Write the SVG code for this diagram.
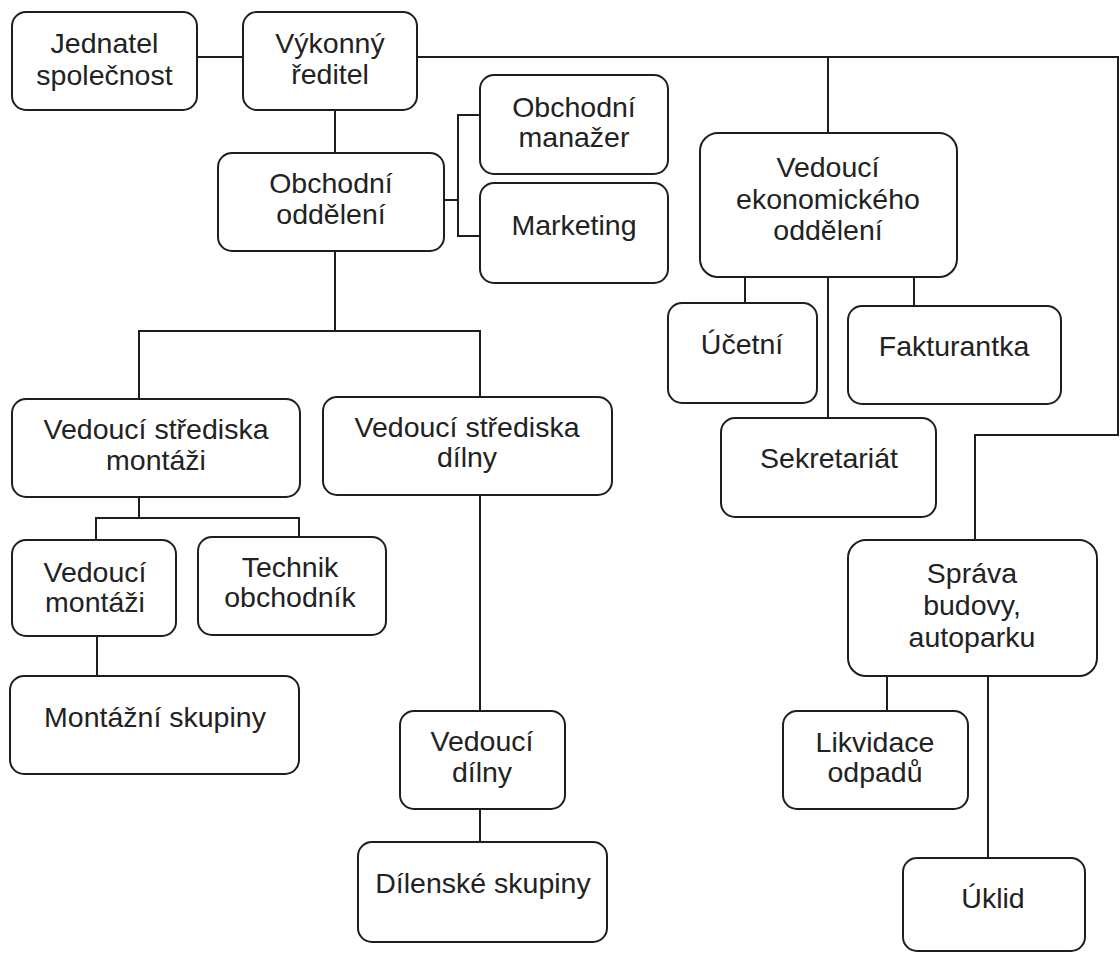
<svg xmlns="http://www.w3.org/2000/svg" width="1120" height="953" viewBox="0 0 1120 953">
<style>
.box{fill:#fff;stroke:#1e1e1e;stroke-width:2}
.t{font-family:"Liberation Sans",Arial,sans-serif;font-size:28.5px;fill:#222;text-anchor:middle}
.c{fill:none;stroke:#1e1e1e;stroke-width:2}
</style>
<rect width="1120" height="953" fill="#fff"/>
<g id="connectors" class="c">
<path d="M197 57H243"/>
<path d="M417 57H1118V435H975V540"/>
<path d="M828 57V133"/>
<path d="M335 110V153"/>
<path d="M444 200H458M480 115H458V236H480"/>
<path d="M335 251V331M139 399V331H480V397"/>
<path d="M139 497V518M96 540V518H299V537"/>
<path d="M97 636V676"/>
<path d="M480 495V711"/>
<path d="M480 809V842"/>
<path d="M745 277V303"/>
<path d="M828 277V418"/>
<path d="M914 277V306"/>
<path d="M887 675V711"/>
<path d="M988 675V858"/>
</g>
<g id="jednatel"><rect class="box" x="12" y="12" width="185" height="98" rx="14"/><text class="t" x="104.5" y="53">Jednatel</text><text class="t" x="104.5" y="85">společnost</text></g>
<g id="vykonny"><rect class="box" x="243" y="12" width="174" height="98" rx="14"/><text class="t" x="330" y="53">Výkonný</text><text class="t" x="330" y="84">ředitel</text></g>
<g id="obchodni-oddeleni"><rect class="box" x="218" y="153" width="226" height="98" rx="14"/><text class="t" x="331" y="193">Obchodní</text><text class="t" x="331" y="224">oddělení</text></g>
<g id="obchodni-manazer"><rect class="box" x="480" y="75" width="188" height="99" rx="14"/><text class="t" x="574" y="117">Obchodní</text><text class="t" x="574" y="147">manažer</text></g>
<g id="marketing"><rect class="box" x="480" y="183" width="188" height="100" rx="14"/><text class="t" x="574" y="235">Marketing</text></g>
<g id="vedouci-ekonomickeho"><rect class="box" x="700" y="133" width="257" height="144" rx="18"/><text class="t" x="828" y="177">Vedoucí</text><text class="t" x="828" y="209">ekonomického</text><text class="t" x="828" y="240">oddělení</text></g>
<g id="ucetni"><rect class="box" x="668" y="303" width="149" height="100" rx="14"/><text class="t" x="742" y="354">Účetní</text></g>
<g id="fakturantka"><rect class="box" x="848" y="306" width="213" height="98" rx="14"/><text class="t" x="954" y="356">Fakturantka</text></g>
<g id="sekretariat"><rect class="box" x="721" y="418" width="215" height="99" rx="14"/><text class="t" x="829" y="468">Sekretariát</text></g>
<g id="sprava"><rect class="box" x="848" y="540" width="249" height="136" rx="18"/><text class="t" x="972" y="583">Správa</text><text class="t" x="972" y="615">budovy,</text><text class="t" x="972" y="647">autoparku</text></g>
<g id="likvidace"><rect class="box" x="783" y="711" width="185" height="98" rx="14"/><text class="t" x="875" y="752">Likvidace</text><text class="t" x="875" y="782">odpadů</text></g>
<g id="uklid"><rect class="box" x="903" y="858" width="182" height="93" rx="14"/><text class="t" x="993" y="908">Úklid</text></g>
<g id="vedouci-strediska-montazi"><rect class="box" x="12" y="399" width="288" height="98" rx="14"/><text class="t" x="156" y="439">Vedoucí střediska</text><text class="t" x="156" y="470">montáži</text></g>
<g id="vedouci-strediska-dilny"><rect class="box" x="323" y="397" width="289" height="98" rx="14"/><text class="t" x="467" y="437">Vedoucí střediska</text><text class="t" x="467" y="467">dílny</text></g>
<g id="vedouci-montazi"><rect class="box" x="12" y="540" width="164" height="96" rx="14"/><text class="t" x="95" y="582">Vedoucí</text><text class="t" x="95" y="612">montáži</text></g>
<g id="technik"><rect class="box" x="198" y="537" width="188" height="98" rx="14"/><text class="t" x="290" y="577">Technik</text><text class="t" x="290" y="607">obchodník</text></g>
<g id="montazni-skupiny"><rect class="box" x="10" y="676" width="289" height="98" rx="14"/><text class="t" x="155" y="727">Montážní skupiny</text></g>
<g id="vedouci-dilny"><rect class="box" x="400" y="711" width="165" height="98" rx="14"/><text class="t" x="482" y="751">Vedoucí</text><text class="t" x="482" y="782">dílny</text></g>
<g id="dilenske-skupiny"><rect class="box" x="358" y="842" width="249" height="100" rx="14"/><text class="t" x="483" y="893">Dílenské skupiny</text></g>
</svg>
